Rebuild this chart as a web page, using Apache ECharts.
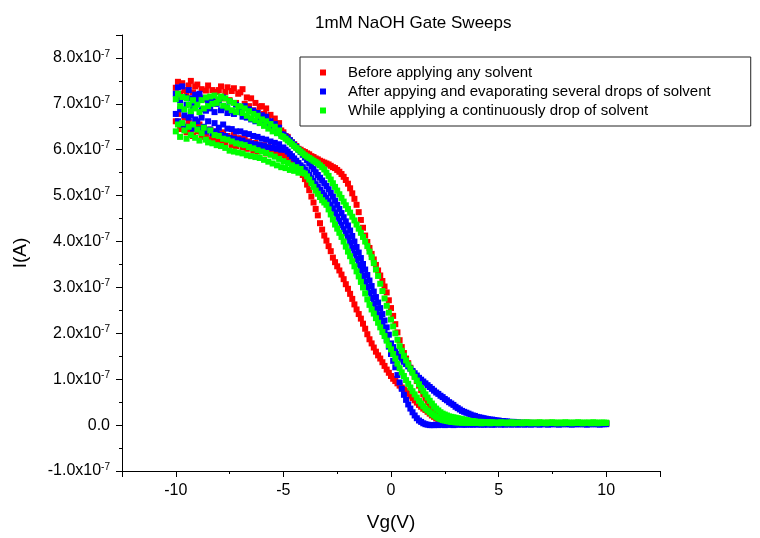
<!DOCTYPE html>
<html>
<head>
<meta charset="utf-8">
<title>1mM NaOH Gate Sweeps</title>
<script src="https://cdn.jsdelivr.net/npm/echarts@6/dist/echarts.min.js"></script>
<style>
  html, body { margin: 0; padding: 0; background: #fff; }
  #chart { width: 760px; height: 538px; }
</style>
</head>
<body>
<div id="chart"></div>
<script>
// gate voltage steps (V), shared by both sweep directions
const vg = [
  -10, -9.9, -9.8, -9.7, -9.6, -9.5, -9.4, -9.3, -9.2, -9.1,
  -9, -8.9, -8.8, -8.7, -8.6, -8.5, -8.4, -8.3, -8.2, -8.1,
  -8, -7.9, -7.8, -7.7, -7.6, -7.5, -7.4, -7.3, -7.2, -7.1,
  -7, -6.9, -6.8, -6.7, -6.6, -6.5, -6.4, -6.3, -6.2, -6.1,
  -6, -5.9, -5.8, -5.7, -5.6, -5.5, -5.4, -5.3, -5.2, -5.1,
  -5, -4.9, -4.8, -4.7, -4.6, -4.5, -4.4, -4.3, -4.2, -4.1,
  -4, -3.9, -3.8, -3.7, -3.6, -3.5, -3.4, -3.3, -3.2, -3.1,
  -3, -2.9, -2.8, -2.7, -2.6, -2.5, -2.4, -2.3, -2.2, -2.1,
  -2, -1.9, -1.8, -1.7, -1.6, -1.5, -1.4, -1.3, -1.2, -1.1,
  -1, -0.9, -0.8, -0.7, -0.6, -0.5, -0.4, -0.3, -0.2, -0.1,
  0, 0.1, 0.2, 0.3, 0.4, 0.5, 0.6, 0.7, 0.8, 0.9,
  1, 1.1, 1.2, 1.3, 1.4, 1.5, 1.6, 1.7, 1.8, 1.9,
  2, 2.1, 2.2, 2.3, 2.4, 2.5, 2.6, 2.7, 2.8, 2.9,
  3, 3.1, 3.2, 3.3, 3.4, 3.5, 3.6, 3.7, 3.8, 3.9,
  4, 4.1, 4.2, 4.3, 4.4, 4.5, 4.6, 4.7, 4.8, 4.9,
  5, 5.1, 5.2, 5.3, 5.4, 5.5, 5.6, 5.7, 5.8, 5.9,
  6, 6.1, 6.2, 6.3, 6.4, 6.5, 6.6, 6.7, 6.8, 6.9,
  7, 7.1, 7.2, 7.3, 7.4, 7.5, 7.6, 7.7, 7.8, 7.9,
  8, 8.1, 8.2, 8.3, 8.4, 8.5, 8.6, 8.7, 8.8, 8.9,
  9, 9.1, 9.2, 9.3, 9.4, 9.5, 9.6, 9.7, 9.8, 9.9,
  10
];

// currents below are in units of 1e-7 A
// before applying any solvent
const redHigh = [
  7.35, 7.48, 7.22, 7.45, 7.30, 7.18, 7.40, 7.50, 7.25, 7.38,
  7.42, 7.15, 7.32, 7.10, 7.29, 7.40, 7.12, 7.30, 7.05, 7.26,
  7.30, 7.38, 7.12, 7.26, 7.36, 7.08, 7.28, 7.34, 7.02, 7.22,
  7.25, 7.32, 7.00, 7.14, 6.95, 7.12, 6.86, 7.02, 6.82, 6.94,
  6.95, 6.78, 6.90, 6.70, 6.76, 6.60, 6.68, 6.52, 6.58, 6.42,
  6.38, 6.30, 6.28, 6.20, 6.16, 6.12, 6.08, 6.02, 6.00, 5.97,
  5.95, 5.92, 5.90, 5.86, 5.84, 5.81, 5.79, 5.76, 5.74, 5.72,
  5.70, 5.68, 5.65, 5.62, 5.60, 5.56, 5.52, 5.47, 5.41, 5.34,
  5.26, 5.16, 5.05, 4.93, 4.80, 4.64, 4.47, 4.30, 4.13, 3.99,
  3.86, 3.73, 3.61, 3.49, 3.37, 3.26, 3.14, 3.02, 2.89, 2.72,
  2.55, 2.38, 2.20, 2.02, 1.85, 1.70, 1.57, 1.45, 1.35, 1.25,
  1.16, 1.06, 0.96, 0.86, 0.76, 0.67, 0.58, 0.50, 0.43, 0.37,
  0.32, 0.28, 0.25, 0.22, 0.20, 0.18, 0.16, 0.14, 0.13, 0.12,
  0.11, 0.10, 0.09, 0.09, 0.08, 0.08, 0.07, 0.07, 0.07, 0.06,
  0.06, 0.06, 0.06, 0.05, 0.06, 0.05, 0.05, 0.05, 0.05, 0.05,
  0.05, 0.05, 0.04, 0.05, 0.05, 0.04, 0.05, 0.04, 0.05, 0.04,
  0.04, 0.05, 0.04, 0.04, 0.05, 0.04, 0.04, 0.04, 0.05, 0.04,
  0.04, 0.04, 0.04, 0.05, 0.04, 0.04, 0.04, 0.04, 0.04, 0.04,
  0.04, 0.04, 0.03, 0.04, 0.04, 0.04, 0.03, 0.04, 0.04, 0.04,
  0.04, 0.03, 0.04, 0.04, 0.04, 0.03, 0.04, 0.04, 0.03, 0.04,
  0.04
];
const redLow = [
  6.62, 6.78, 6.45, 6.55, 6.70, 6.38, 6.60, 6.42, 6.30, 6.52,
  6.40, 6.55, 6.28, 6.46, 6.34, 6.22, 6.44, 6.25, 6.40, 6.20,
  6.35, 6.18, 6.38, 6.12, 6.30, 6.22, 6.10, 6.32, 6.08, 6.25,
  6.24, 6.05, 6.28, 6.02, 6.18, 6.10, 5.98, 6.15, 5.96, 6.10,
  6.02, 6.10, 5.92, 6.06, 5.94, 6.02, 5.90, 5.98, 5.88, 5.92,
  5.88, 5.85, 5.82, 5.78, 5.74, 5.70, 5.65, 5.59, 5.52, 5.45,
  5.36, 5.24, 5.12, 4.98, 4.85, 4.71, 4.57, 4.40, 4.26, 4.13,
  4.02, 3.90, 3.79, 3.65, 3.55, 3.46, 3.37, 3.28, 3.18, 3.07,
  2.97, 2.86, 2.75, 2.63, 2.52, 2.42, 2.32, 2.21, 2.10, 1.98,
  1.87, 1.78, 1.69, 1.60, 1.52, 1.45, 1.37, 1.29, 1.21, 1.14,
  1.07, 1.01, 0.96, 0.91, 0.86, 0.82, 0.78, 0.74, 0.69, 0.64,
  0.59, 0.54, 0.49, 0.44, 0.40, 0.36, 0.33, 0.29, 0.25, 0.21,
  0.18, 0.15, 0.13, 0.11, 0.09, 0.08, 0.07, 0.06, 0.05, 0.05,
  0.04, 0.04, 0.04, 0.04, 0.03, 0.04, 0.03, 0.04, 0.03, 0.03,
  0.03, 0.04, 0.03, 0.03, 0.04, 0.03, 0.03, 0.03, 0.04, 0.03,
  0.03, 0.03, 0.04, 0.03, 0.03, 0.03, 0.03, 0.04, 0.03, 0.03,
  0.03, 0.03, 0.03, 0.04, 0.03, 0.03, 0.03, 0.03, 0.03, 0.04,
  0.03, 0.03, 0.03, 0.03, 0.04, 0.03, 0.03, 0.03, 0.03, 0.03,
  0.03, 0.04, 0.03, 0.03, 0.03, 0.03, 0.04, 0.03, 0.03, 0.03,
  0.03, 0.03, 0.03, 0.04, 0.03, 0.03, 0.03, 0.03, 0.04, 0.03,
  0.03
];

// after applying and evaporating several drops
const blueHigh = [
  7.22, 7.36, 7.08, 7.38, 7.15, 6.98, 7.30, 7.12, 6.95, 7.20,
  7.10, 7.22, 6.88, 7.12, 6.85, 7.06, 6.90, 7.12, 6.82, 7.00,
  7.08, 6.86, 7.14, 6.92, 6.80, 7.05, 6.84, 6.78, 6.98, 6.82,
  6.90, 6.72, 6.95, 6.70, 6.88, 6.66, 6.85, 6.62, 6.80, 6.64,
  6.75, 6.60, 6.72, 6.55, 6.62, 6.48, 6.56, 6.40, 6.48, 6.34,
  6.33, 6.29, 6.25, 6.21, 6.16, 6.11, 6.06, 6.00, 5.95, 5.89,
  5.83, 5.77, 5.71, 5.64, 5.58, 5.51, 5.45, 5.39, 5.33, 5.27,
  5.21, 5.14, 5.06, 4.98, 4.89, 4.80, 4.71, 4.62, 4.53, 4.44,
  4.35, 4.24, 4.12, 4.00, 3.88, 3.76, 3.64, 3.51, 3.39, 3.27,
  3.15, 3.03, 2.91, 2.79, 2.67, 2.55, 2.42, 2.28, 2.13, 1.97,
  1.78, 1.70, 1.62, 1.55, 1.49, 1.43, 1.38, 1.33, 1.28, 1.23,
  1.18, 1.13, 1.08, 1.03, 0.99, 0.95, 0.91, 0.87, 0.83, 0.79,
  0.75, 0.71, 0.68, 0.64, 0.61, 0.57, 0.54, 0.50, 0.47, 0.44,
  0.40, 0.37, 0.34, 0.31, 0.29, 0.27, 0.25, 0.23, 0.21, 0.20,
  0.18, 0.17, 0.16, 0.15, 0.14, 0.13, 0.12, 0.12, 0.11, 0.10,
  0.10, 0.09, 0.09, 0.08, 0.08, 0.07, 0.07, 0.07, 0.06, 0.06,
  0.05, 0.05, 0.05, 0.05, 0.04, 0.05, 0.04, 0.04, 0.04, 0.04,
  0.04, 0.04, 0.04, 0.04, 0.04, 0.03, 0.04, 0.04, 0.04, 0.04,
  0.04, 0.03, 0.04, 0.04, 0.04, 0.04, 0.03, 0.04, 0.04, 0.04,
  0.03, 0.04, 0.04, 0.04, 0.03, 0.04, 0.04, 0.04, 0.03, 0.04,
  0.04
];
const blueLow = [
  6.78, 6.62, 6.88, 6.55, 6.75, 6.50, 6.70, 6.76, 6.46, 6.66,
  6.62, 6.45, 6.70, 6.50, 6.40, 6.62, 6.44, 6.36, 6.58, 6.40,
  6.48, 6.32, 6.55, 6.30, 6.46, 6.26, 6.45, 6.24, 6.40, 6.22,
  6.40, 6.20, 6.36, 6.16, 6.34, 6.14, 6.30, 6.12, 6.28, 6.10,
  6.24, 6.08, 6.22, 6.05, 6.18, 6.04, 6.15, 6.02, 6.12, 6.00,
  6.05, 6.00, 5.96, 5.91, 5.86, 5.81, 5.76, 5.71, 5.66, 5.62,
  5.57, 5.51, 5.45, 5.38, 5.32, 5.25, 5.19, 5.13, 5.07, 5.01,
  4.95, 4.88, 4.80, 4.72, 4.63, 4.54, 4.45, 4.36, 4.27, 4.18,
  4.09, 3.98, 3.86, 3.74, 3.62, 3.50, 3.38, 3.25, 3.13, 3.01,
  2.89, 2.77, 2.65, 2.53, 2.41, 2.29, 2.16, 2.02, 1.87, 1.71,
  1.55, 1.40, 1.26, 1.09, 0.93, 0.79, 0.66, 0.55, 0.45, 0.36,
  0.28, 0.21, 0.15, 0.10, 0.07, 0.04, 0.02, 0.01, 0.00, 0.00,
  0.00, 0.01, 0.00, 0.01, 0.01, 0.00, 0.01, 0.01, 0.01, 0.00,
  0.01, 0.01, 0.02, 0.01, 0.01, 0.01, 0.02, 0.01, 0.01, 0.02,
  0.01, 0.02, 0.01, 0.01, 0.02, 0.01, 0.02, 0.01, 0.01, 0.02,
  0.02, 0.01, 0.02, 0.01, 0.02, 0.02, 0.01, 0.02, 0.02, 0.01,
  0.02, 0.02, 0.01, 0.02, 0.02, 0.01, 0.02, 0.02, 0.02, 0.01,
  0.02, 0.02, 0.02, 0.01, 0.02, 0.02, 0.02, 0.02, 0.01, 0.02,
  0.02, 0.02, 0.02, 0.02, 0.01, 0.02, 0.02, 0.02, 0.02, 0.02,
  0.02, 0.01, 0.02, 0.02, 0.02, 0.02, 0.02, 0.01, 0.02, 0.02,
  0.02
];

// while applying a continuous drop
const greenHigh = [
  7.10, 7.22, 6.95, 7.15, 6.88, 7.12, 6.98, 6.84, 7.08, 6.90,
  6.98, 6.82, 7.08, 6.90, 7.14, 6.95, 7.16, 7.00, 7.18, 7.02,
  7.10, 7.16, 6.96, 7.12, 6.92, 7.06, 6.86, 7.02, 6.82, 6.95,
  6.94, 6.80, 6.90, 6.74, 6.84, 6.68, 6.78, 6.64, 6.74, 6.58,
  6.66, 6.52, 6.62, 6.46, 6.56, 6.40, 6.50, 6.36, 6.42, 6.30,
  6.28, 6.24, 6.20, 6.16, 6.12, 6.08, 6.04, 6.00, 5.96, 5.92,
  5.88, 5.85, 5.82, 5.79, 5.76, 5.73, 5.70, 5.66, 5.62, 5.57,
  5.50, 5.43, 5.35, 5.27, 5.19, 5.11, 5.03, 4.95, 4.87, 4.79,
  4.71, 4.63, 4.54, 4.46, 4.37, 4.28, 4.19, 4.10, 4.00, 3.90,
  3.78, 3.66, 3.53, 3.39, 3.25, 3.08, 2.92, 2.76, 2.60, 2.45,
  2.30, 2.15, 2.00, 1.86, 1.72, 1.62, 1.51, 1.41, 1.32, 1.23,
  1.14, 1.05, 0.97, 0.89, 0.81, 0.74, 0.67, 0.60, 0.53, 0.47,
  0.41, 0.36, 0.32, 0.28, 0.25, 0.23, 0.21, 0.19, 0.18, 0.17,
  0.16, 0.15, 0.14, 0.13, 0.12, 0.11, 0.10, 0.09, 0.09, 0.08,
  0.07, 0.07, 0.07, 0.06, 0.06, 0.06, 0.06, 0.06, 0.05, 0.05,
  0.05, 0.06, 0.05, 0.05, 0.05, 0.05, 0.06, 0.05, 0.05, 0.05,
  0.05, 0.05, 0.05, 0.06, 0.05, 0.05, 0.05, 0.05, 0.05, 0.06,
  0.05, 0.05, 0.05, 0.05, 0.05, 0.06, 0.05, 0.05, 0.05, 0.05,
  0.05, 0.06, 0.05, 0.05, 0.05, 0.05, 0.05, 0.06, 0.05, 0.05,
  0.05, 0.05, 0.05, 0.05, 0.06, 0.05, 0.05, 0.05, 0.05, 0.05,
  0.05
];
const greenLow = [
  6.40, 6.55, 6.28, 6.58, 6.42, 6.24, 6.50, 6.32, 6.55, 6.26,
  6.44, 6.20, 6.36, 6.48, 6.22, 6.16, 6.42, 6.14, 6.32, 6.10,
  6.30, 6.08, 6.24, 6.04, 6.22, 5.98, 6.18, 5.96, 6.14, 5.94,
  6.12, 5.92, 6.10, 5.88, 6.06, 5.86, 6.03, 5.84, 5.99, 5.82,
  5.96, 5.78, 5.93, 5.74, 5.89, 5.70, 5.85, 5.66, 5.80, 5.62,
  5.75, 5.60, 5.71, 5.56, 5.66, 5.54, 5.62, 5.50, 5.58, 5.50,
  5.48, 5.42, 5.35, 5.27, 5.19, 5.11, 5.04, 4.97, 4.90, 4.85,
  4.80, 4.70, 4.59, 4.48, 4.37, 4.28, 4.19, 4.10, 4.00, 3.89,
  3.78, 3.68, 3.57, 3.46, 3.35, 3.24, 3.12, 3.00, 2.87, 2.74,
  2.62, 2.52, 2.43, 2.33, 2.23, 2.13, 2.03, 1.94, 1.84, 1.74,
  1.65, 1.55, 1.45, 1.34, 1.24, 1.15, 1.07, 0.98, 0.90, 0.82,
  0.74, 0.67, 0.60, 0.53, 0.47, 0.41, 0.36, 0.32, 0.28, 0.24,
  0.21, 0.18, 0.15, 0.13, 0.11, 0.10, 0.09, 0.08, 0.07, 0.07,
  0.06, 0.06, 0.06, 0.05, 0.06, 0.05, 0.05, 0.05, 0.05, 0.05,
  0.05, 0.05, 0.04, 0.05, 0.05, 0.05, 0.04, 0.05, 0.05, 0.05,
  0.04, 0.05, 0.05, 0.05, 0.04, 0.05, 0.05, 0.04, 0.05, 0.05,
  0.05, 0.04, 0.05, 0.05, 0.05, 0.04, 0.05, 0.05, 0.04, 0.05,
  0.05, 0.05, 0.04, 0.05, 0.05, 0.05, 0.05, 0.04, 0.05, 0.05,
  0.04, 0.05, 0.05, 0.05, 0.04, 0.05, 0.05, 0.05, 0.05, 0.04,
  0.05, 0.05, 0.05, 0.04, 0.05, 0.05, 0.04, 0.05, 0.05, 0.05,
  0.05
];

const seriesNames = [
  "Before applying any solvent",
  "After appying and evaporating several drops of solvent",
  "While applying a continuously drop of solvent",
];
const seriesColors = ["#ff0000", "#0000ff", "#00ff00"];

const font = "Arial, 'Liberation Sans', sans-serif";

function points(ys) {
  return vg.map((x, i) => [x, ys[i]]);
}

const sweeps = [
  points(redHigh).concat(points(redLow)),
  points(blueHigh).concat(points(blueLow)),
  points(greenHigh).concat(points(greenLow)),
];

const chart = echarts.init(document.getElementById("chart"));

const option = {
  animation: false,
  backgroundColor: "#fff",
  title: {
    text: "1mM NaOH Gate Sweeps",
    left: 310,
    top: 10,
    textStyle: { fontFamily: font, fontSize: 17, fontWeight: "normal", color: "#000" },
  },
  legend: {
    data: seriesNames,
    orient: "vertical",
    left: 300,
    top: 57,
    padding: [8, 40, 8, 20],
    itemWidth: 6,
    itemHeight: 6,
    itemGap: 4,
    icon: "rect",
    borderColor: "#222",
    borderWidth: 1,
    formatter: (name) => `{t|${name}}`,
    textStyle: {
      fontFamily: font,
      fontSize: 15,
      color: "#000",
      rich: { t: { fontFamily: font, fontSize: 15, lineHeight: 15, padding: [0, 0, 0, 17] } },
    },
  },
  grid: { left: 122, right: 100, top: 35, bottom: 67, containLabel: false },
  xAxis: [
    {
      type: "value",
      min: -12.5,
      max: 12.5,
      splitNumber: 5,
      name: "Vg(V)",
      nameLocation: "middle",
      nameGap: 42,
      nameTextStyle: { fontFamily: font, fontSize: 19, color: "#000" },
      axisLine: { onZero: false, lineStyle: { color: "#000", width: 1 } },
      axisTick: { length: 6, lineStyle: { color: "#000" } },
      splitLine: { show: false },
      axisLabel: {
        margin: 12,
        fontFamily: font,
        fontSize: 16,
        color: "#000",
        formatter: (v) => (v % 5 === 0 ? String(v) : ""),
      },
    },
    {
      // minor ticks
      type: "value",
      position: "bottom",
      min: -12.5,
      max: 12.5,
      interval: 2.5,
      axisLine: { show: false, onZero: false },
      axisTick: { length: 3, lineStyle: { color: "#000" } },
      axisLabel: { show: false },
      splitLine: { show: false },
    },
  ],
  yAxis: [
    {
      type: "value",
      min: -1,
      max: 8.5,
      interval: 1,
      name: "I(A)",
      nameLocation: "middle",
      nameGap: 92,
      nameTextStyle: { fontFamily: font, fontSize: 19, color: "#000" },
      axisLine: { show: true, onZero: false, lineStyle: { color: "#000", width: 1 } },
      axisTick: { show: true, length: 6, lineStyle: { color: "#000" } },
      splitLine: { show: false },
      axisLabel: {
        margin: 12,
        color: "#000",
        formatter: (v) => {
          if (Math.abs(v - Math.round(v)) > 1e-6) return "";
          if (v === 0) return "{m|0.0}";
          return `{m|${v.toFixed(1)}x10}{e|-7}`;
        },
        rich: {
          m: { fontFamily: font, fontSize: 16, lineHeight: 18, color: "#000" },
          e: { fontFamily: font, fontSize: 10, lineHeight: 10, verticalAlign: "top", color: "#000" },
        },
      },
    },
    {
      // minor ticks
      type: "value",
      position: "left",
      min: -1,
      max: 8.5,
      interval: 0.5,
      axisLine: { show: false, onZero: false },
      axisTick: { show: true, length: 3, lineStyle: { color: "#000" } },
      axisLabel: { show: false },
      splitLine: { show: false },
    },
  ],
  series: sweeps.map((data, i) => ({
    name: seriesNames[i],
    type: "scatter",
    data: data,
    symbol: "rect",
    symbolSize: 6,
    itemStyle: { color: seriesColors[i], opacity: 1 },
  })),
};

chart.setOption(option);
</script>
</body>
</html>
